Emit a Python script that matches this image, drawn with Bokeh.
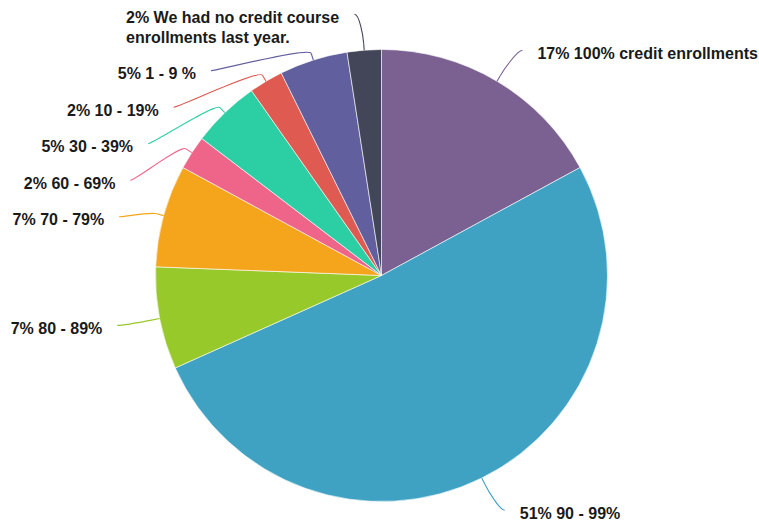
import math
from bokeh.plotting import figure
from bokeh.models import Range1d, ColumnDataSource
from bokeh.core.properties import value
from bokeh.embed import file_html
from bokeh.resources import INLINE

# ---- data ----
categories = [
    "100% credit enrollments",
    "90 - 99%",
    "80 - 89%",
    "70 - 79%",
    "60 - 69%",
    "30 - 39%",
    "10 - 19%",
    "1 - 9 %",
    "We had no credit course enrollments last year.",
]
counts = [7, 21, 3, 3, 1, 2, 1, 2, 1]
colors = ["#7B6191", "#40A2C3", "#98C92A", "#F5A51C", "#EF6589",
          "#2CCFA4", "#DF5A51", "#615F9D", "#424658"]

# ---- layout (screen pixels) ----
W, H = 759, 527
CX, CY = 381, 275          # pie centre, screen coords
R = 226                    # pie radius
RL = 262                   # label radius
PAD = 7
BREAK = 7
GAP = 36.5
LINE_H = 20
TOP = 10
FONT_PX = 16
WRAP = 27

AW = {" ": 278, "%": 889, "-": 333, ".": 278, "a": 556, "c": 556, "d": 611,
      "e": 556, "h": 611, "i": 278, "l": 278, "m": 889, "n": 611, "o": 611,
      "r": 389, "s": 556, "t": 333, "u": 611, "y": 556, "W": 944}


def text_width(s):
    return sum(AW.get(ch, 556) for ch in s) * FONT_PX / 1000.0


def wrap(s, n):
    words, lines, cur = s.split(" "), [], ""
    for w in words:
        cand = (cur + " " + w).strip()
        if len(cand) > n and cur:
            lines.append(cur)
            cur = w
        else:
            cur = cand
    lines.append(cur)
    return lines


total = sum(counts)
pcts = [round(100 * c / total) for c in counts]
labels = [wrap(f"{p}% {c}", WRAP) for p, c in zip(pcts, categories)]

# angles (clockwise from top)
starts, ends, mids = [], [], []
acc = 0
for c in counts:
    a0 = 2 * math.pi * acc / total
    acc += c
    a1 = 2 * math.pi * acc / total
    starts.append(a0); ends.append(a1); mids.append((a0 + a1) / 2)


def sy(y):  # screen y -> data y
    return H - y


p = figure(width=W, height=H, output_backend="svg", toolbar_location=None,
           x_range=Range1d(0, W), y_range=Range1d(0, H),
           min_border=0)
p.axis.visible = False
p.grid.visible = False
p.outline_line_color = None
p.background_fill_color = "white"
p.border_fill_color = "white"

p.wedge(x=[CX] * len(counts), y=[sy(CY)] * len(counts), radius=R,
        start_angle=[math.pi / 2 - e for e in ends],
        end_angle=[math.pi / 2 - s for s in starts],
        direction="anticlock", fill_color=colors,
        line_color="white", line_width=0.6)

# label placement
nat_y = [CY - RL * math.cos(t) for t in mids]
label_y = [0.0] * len(counts)
for side in (0, 1):
    idx = [i for i, t in enumerate(mids) if (t > math.pi) == bool(side)]
    idx.sort(key=lambda i: nat_y[i])
    prev = None
    for i in idx:
        y = max(nat_y[i], TOP)
        if prev is not None:
            y = max(y, label_y[prev] + GAP + (len(labels[prev]) - 1) * LINE_H)
        label_y[i] = y
        prev = i

tx, ty, tt = [], [], []
for i, t in enumerate(mids):
    left = t > math.pi
    sgn = -1 if left else 1
    ly = label_y[i]
    dy = ly - CY
    lx = CX + sgn * (math.sqrt(max(RL * RL - dy * dy, 0)) + PAD)
    touch = (CX + R * math.sin(t), CY - R * math.cos(t))
    brk = (CX + (R + BREAK) * math.sin(t), CY - (R + BREAK) * math.cos(t))
    c1 = (lx + (5 if left else -5), ly)
    c2 = (2 * brk[0] - touch[0], 2 * brk[1] - touch[1])
    p.bezier(x0=[lx], y0=[sy(ly)], x1=[brk[0]], y1=[sy(brk[1])],
             cx0=[c1[0]], cy0=[sy(c1[1])], cx1=[c2[0]], cy1=[sy(c2[1])],
             line_color=colors[i], line_width=1.1)
    p.segment(x0=[brk[0]], y0=[sy(brk[1])], x1=[touch[0]], y1=[sy(touch[1])],
              line_color=colors[i], line_width=1.1)
    lines = labels[i]
    if left:
        right_edge = lx - 15
        block_w = max(text_width(s) for s in lines)
        x_left = right_edge - block_w
    else:
        x_left = lx + 15
    for k, s in enumerate(lines):
        tx.append(x_left); ty.append(sy(ly + 3 + k * LINE_H)); tt.append(s)

src = ColumnDataSource(dict(x=tx, y=ty, text=tt))
p.text(x="x", y="y", text="text", source=src, text_align="left",
       text_baseline="middle", text_font=value("Liberation Sans"),
       text_font_style="bold", text_font_size=f"{FONT_PX}px",
       text_color="#1a1a1a")

open("out.html", "w").write(file_html(p, INLINE))
